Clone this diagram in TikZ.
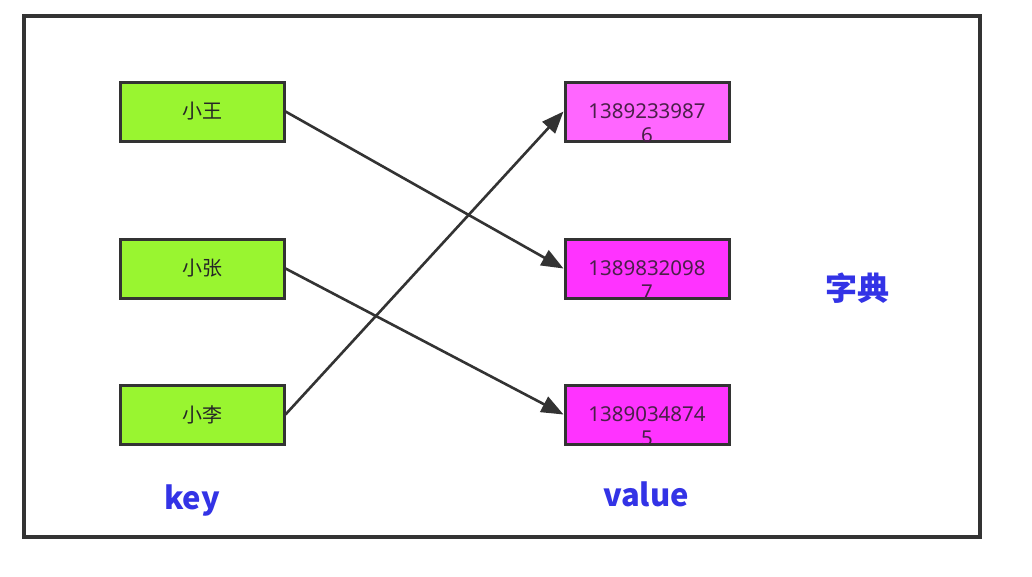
\documentclass[tikz,border=0pt]{standalone}
\usepackage{fontspec}
\setmainfont{Noto Sans}
\newfontfamily\cjk{Noto Sans CJK SC}
\usetikzlibrary{arrows.meta}
\definecolor{keygreen}{HTML}{99F530}
\definecolor{valpinkA}{HTML}{FF66FF}
\definecolor{valpinkB}{HTML}{FF33FF}
\definecolor{edgegray}{HTML}{333333}
\definecolor{lblblue}{HTML}{3333E6}
\definecolor{valtext}{HTML}{4A2049}
\begin{document}
\begin{tikzpicture}[x=1pt,y=-1pt,
  boxbase/.style={draw=edgegray,line width=3pt,minimum width=164pt,minimum height=59pt,inner sep=0pt},
  keybox/.style={boxbase,fill=keygreen,font=\cjk\fontsize{20}{24}\selectfont,text=black!85},
  valbox/.style={boxbase},
  valtxt/.style={align=center,font=\fontsize{20.5}{24}\selectfont,text=valtext,inner sep=0pt},
  biglbl/.style={text=lblblue,font=\cjk\bfseries\fontsize{31}{35}\selectfont},
  link/.style={draw=edgegray,line width=2.6pt,-{Triangle[length=22pt,width=17pt]}}]
\useasboundingbox (0,0) rectangle (1032,576);
\fill[white] (0,0) rectangle (1032,576);
\draw[edgegray,line width=3.2pt] (24,16) rectangle (980,537);
% keys
\node[keybox] (k1) at (202,111.5) {小王};
\node[keybox] (k2) at (202,268.5) {小张};
\node[keybox] (k3) at (202,414.5) {小李};
% values
\node[valbox,fill=valpinkA] (v1) at (647,111.5) {};
\node[valbox,fill=valpinkB] (v2) at (647,268.5) {};
\node[valbox,fill=valpinkB] (v3) at (647,414.5) {};
\node[valtxt] (t1) at ([yshift=-12pt]v1.center) {1389233987\\6};
\node[valtxt] (t2) at ([yshift=-12pt]v2.center) {1389832098\\7};
\node[valtxt] (t3) at ([yshift=-12pt]v3.center) {1389034874\\5};
% labels
\node[biglbl] (lk) at (192,500) {key};
\node[biglbl] (lv) at (646,494) {value};
\node[biglbl,font=\cjk\bfseries\fontsize{32}{36}\selectfont] (ld) at (857,288) {字典};
% connectors
\draw[link] (k1.east) -- (v2.west);
\draw[link] (k2.east) -- (v3.west);
\draw[link] (k3.east) -- (v1.west);
\end{tikzpicture}
\end{document}
